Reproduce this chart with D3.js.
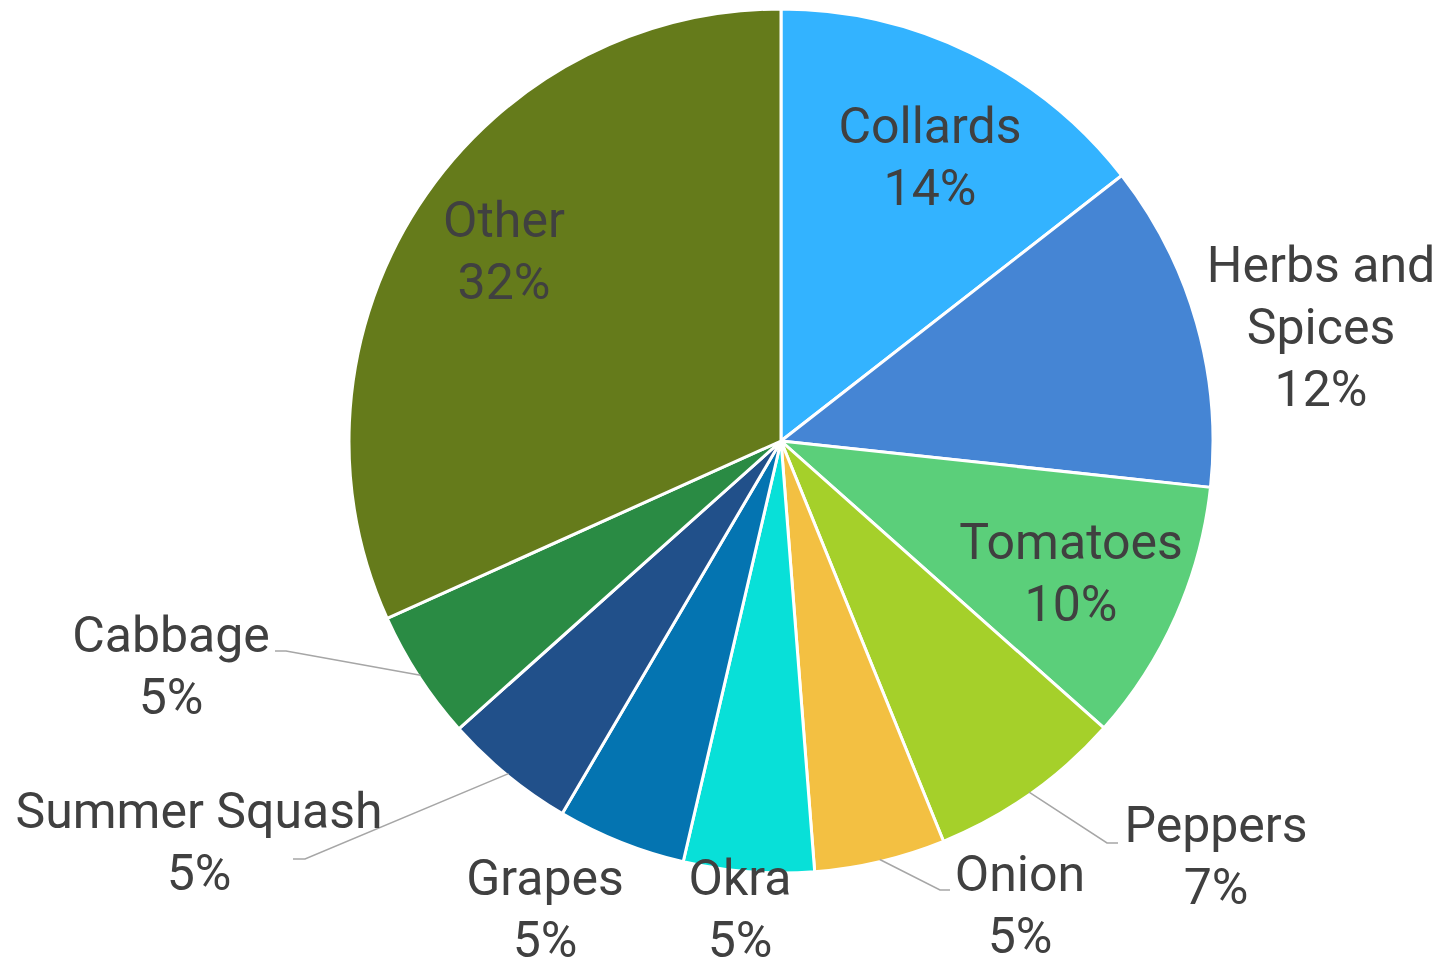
<!DOCTYPE html>
<html>
<head>
<meta charset="utf-8">
<script src="https://cdn.jsdelivr.net/npm/d3@7"></script>
<style>
  body { margin: 0; background: #fff; }
  svg { display: block; }
</style>
</head>
<body>
<script>
// Chart data
const categories = ['Collards', 'Herbs and Spices', 'Tomatoes', 'Peppers', 'Onion',
    'Okra', 'Grapes', 'Summer Squash', 'Cabbage', 'Other'];
const shares = [14.45, 12.23, 9.84, 7.29, 4.89, 4.87, 4.81, 4.94, 4.86, 31.7];
const colors = ['#33b3ff', '#4585d4', '#5bcf7a', '#a5d02a', '#f3c042',
    '#08e0d8', '#0474b1', '#21508a', '#2a8b44', '#657b1b'];

// Canvas
const width = 1441;
const height = 960;
const cx = 781, cy = 441;
const radius = 432;

// Label placement (x = centre of text, y = first baseline), plus leader elbows
const labelLayout = [
    { x: 930, y: 143 },
    { x: 1321, y: 282, wrap: 2 },
    { x: 1071, y: 559 },
    { x: 1216, y: 842, leader: [[1107, 843], [1118, 843]] },
    { x: 1020, y: 891, leader: [[940, 890], [950, 890]] },
    { x: 740, y: 895 },
    { x: 545, y: 895 },
    { x: 199, y: 828, leader: [[305, 859], [293, 859]] },
    { x: 171, y: 652, leader: [[286, 651], [275, 651]] },
    { x: 504, y: 237 }
];
const lineStep = 62;

const svg = d3.select('body')
    .append('svg')
    .attr('width', width)
    .attr('height', height);

const data = categories.map((c, i) => ({ name: c, value: shares[i], color: colors[i], layout: labelLayout[i] }));
const total = d3.sum(shares);

const pie = d3.pie()
    .sort(null)
    .value(d => d.value);

const arc = d3.arc()
    .innerRadius(0)
    .outerRadius(radius);

// leader lines start at the rim, mid-angle of the slice
const rimArc = d3.arc()
    .innerRadius(radius - 2)
    .outerRadius(radius - 2);

const arcs = pie(data);

const g = svg.append('g')
    .attr('transform', `translate(${cx},${cy})`);

g.selectAll('path.slice')
    .data(arcs)
    .enter()
    .append('path')
    .attr('class', 'slice')
    .attr('d', arc)
    .attr('fill', d => d.data.color)
    .attr('stroke', '#fff')
    .attr('stroke-width', 3)
    .attr('stroke-linejoin', 'round');

// Leader lines
const lineGen = d3.line();
svg.selectAll('path.leader')
    .data(arcs.filter(d => d.data.layout.leader))
    .enter()
    .append('path')
    .attr('class', 'leader')
    .attr('d', d => {
        const c = rimArc.centroid(d);
        return lineGen([[c[0] + cx, c[1] + cy], ...d.data.layout.leader]);
    })
    .attr('fill', 'none')
    .attr('stroke', '#a6a6a6')
    .attr('stroke-width', 1.5);

// Labels
const labels = svg.selectAll('text.label')
    .data(arcs)
    .enter()
    .append('text')
    .attr('class', 'label')
    .attr('text-anchor', 'middle')
    .style('font-family', 'Roboto, "Noto Sans", sans-serif')
    .style('font-size', '50px')
    .style('fill', '#404040');

labels.each(function (d) {
    const lay = d.data.layout;
    const words = d.data.name.split(' ');
    let lines = [d.data.name];
    if (lay.wrap) {
        lines = [words.slice(0, lay.wrap).join(' '), words.slice(lay.wrap).join(' ')];
    }
    lines.push(Math.round(d.data.value / total * 100) + '%');
    d3.select(this).selectAll('tspan')
        .data(lines)
        .enter()
        .append('tspan')
        .attr('x', lay.x)
        .attr('y', (t, i) => lay.y + i * lineStep)
        .text(t => t);
});
</script>
</body>
</html>
